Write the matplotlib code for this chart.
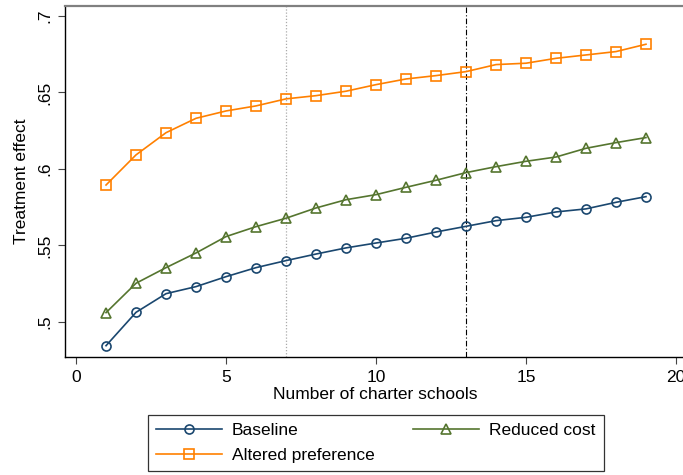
import matplotlib
matplotlib.use("Agg")
import matplotlib.pyplot as plt

n_schools = list(range(1, 20))
baseline = [0.4845, 0.5063, 0.5185, 0.5231, 0.5296, 0.5355, 0.5401, 0.5444, 0.5484, 0.5516,
            0.5547, 0.5588, 0.5625, 0.5662, 0.5684, 0.5719, 0.5739, 0.5782, 0.5819]
reduced_cost = [0.5061, 0.5253, 0.5355, 0.5451, 0.5558, 0.5623, 0.5678, 0.5745, 0.5799, 0.5832,
                0.5880, 0.5926, 0.5976, 0.6015, 0.6050, 0.6078, 0.6135, 0.6172, 0.6205]
altered_pref = [0.5895, 0.6092, 0.6237, 0.6331, 0.6379, 0.6412, 0.6458, 0.6479, 0.6508, 0.6551,
                0.6588, 0.6610, 0.6636, 0.6682, 0.6691, 0.6723, 0.6745, 0.6767, 0.6815]
x_ticks = [0, 5, 10, 15, 20]
y_ticks = [0.5, 0.55, 0.6, 0.65, 0.7]
y_tick_labels = [".5", ".55", ".6", ".65", ".7"]
vline_dotted = 7
vline_dashdot = 13

plt.rcParams["font.family"] = ["Liberation Sans", "DejaVu Sans"]
plt.rcParams["font.size"] = 12.5

fig = plt.figure(figsize=(6.83, 4.75), dpi=100)
ax = fig.add_axes([0.0952, 0.2484, 0.909, 0.739])

ax.axvline(vline_dotted, color="#aaaaaa", linestyle=(0, (1, 1.5)), linewidth=0.9, zorder=1)
ax.axvline(vline_dashdot, color="black", linestyle=(0, (5, 2, 1, 2)), linewidth=0.8, zorder=1)

common = dict(linewidth=1.2, markersize=6.5, markerfacecolor="none", markeredgewidth=1.2)
ax.plot(n_schools, baseline, color="#1a476f", marker="o", label="Baseline", **common)
ax.plot(n_schools, reduced_cost, color="#55752f", marker="^", label="Reduced cost", **common)
ax.plot(n_schools, altered_pref, color="#ff8000", marker="s", label="Altered preference", **common)

ax.set_xlim(-0.367, 20.33)
ax.set_ylim(0.4771, 0.7065)
ax.set_xticks(x_ticks)
ax.set_yticks(y_ticks)
ax.set_yticklabels(y_tick_labels, rotation=90, va="center")
ax.tick_params(direction="out", length=5, width=0.8, color="#444444", pad=4)

ax.spines["right"].set_visible(False)
ax.spines["top"].set_color("#808080")
ax.spines["top"].set_linewidth(1.6)
ax.spines["left"].set_linewidth(1.0)
ax.spines["bottom"].set_linewidth(1.0)

ax.set_xlabel("Number of charter schools", labelpad=2)
ax.set_ylabel("Treatment effect", labelpad=6)

handles, labels = ax.get_legend_handles_labels()
order = [0, 2, 1]
leg = fig.legend([handles[i] for i in order], [labels[i] for i in order],
                 loc="center", bbox_to_anchor=(0.55, 0.067), ncol=2,
                 frameon=True, fancybox=False, edgecolor="black",
                 handlelength=3.8, handletextpad=0.6, columnspacing=2.2,
                 labelspacing=0.55, borderpad=0.45)
leg.get_frame().set_linewidth(0.9)

fig.savefig("out.png", dpi=100)
plt.close(fig)
